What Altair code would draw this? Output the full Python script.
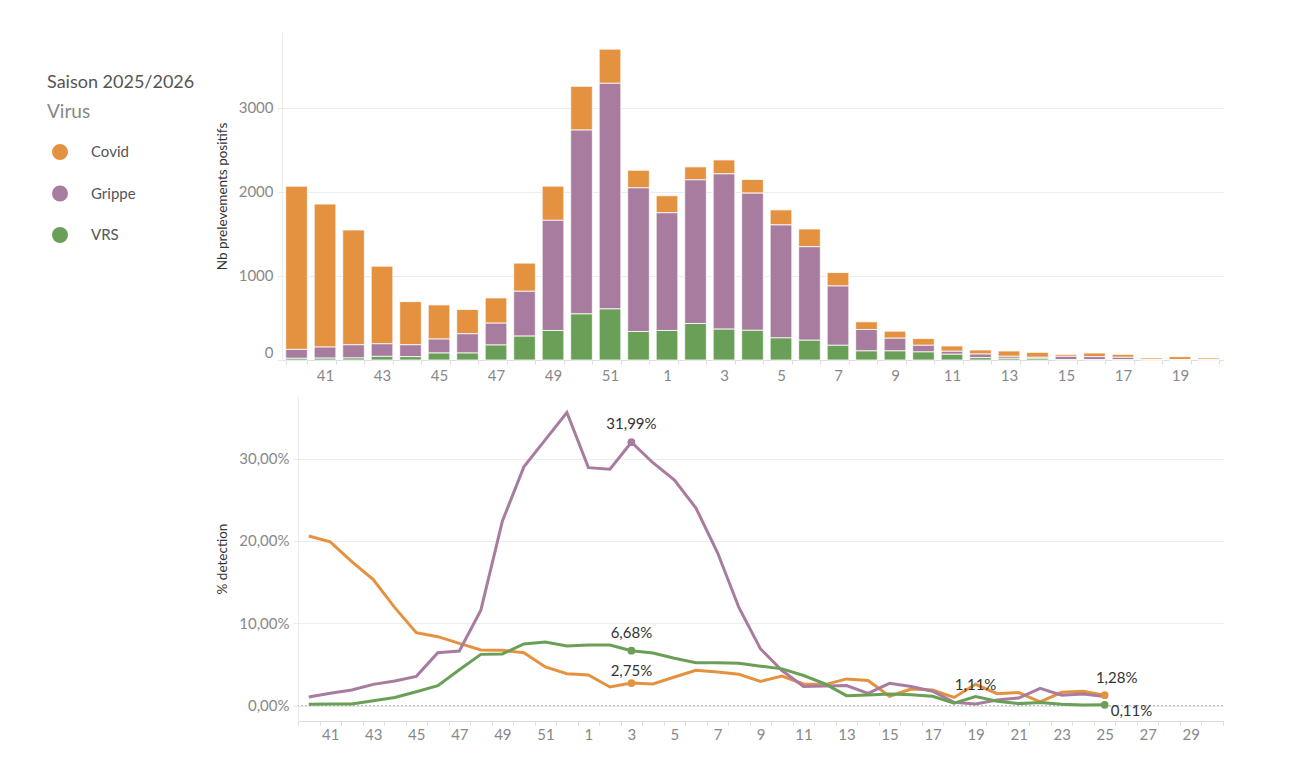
import altair as alt
import pandas as pd

FONT = "Lato"

# ---- series -------------------------------------------------------------
virus = ["Covid", "Grippe", "VRS"]
virus_colors = ["#E4923F", "#A87C9F", "#6A9F57"]
stack_bottom_to_top = ["VRS", "Grippe", "Covid"]

# weekly positive samples (ISO weeks 40 -> 20)
weeks_bars = list(range(40, 53)) + list(range(1, 21))
covid_n = [1941, 1700, 1365, 923, 513, 406, 288, 300, 335, 406, 520, 406, 209,
           202, 154, 166, 162, 179, 211, 160, 91, 84, 80, 63, 48, 63, 59, 23, 43, 35, 19, 36, 21]
grippe_n = [106, 132, 157, 150, 141, 166, 229, 260, 533, 1310, 2186, 2683, 1708,
            1400, 1708, 1846, 1631, 1343, 1112, 705, 255, 151, 79, 36, 43, 24, 12, 40, 36, 29, 3, 3, 2]
vrs_n = [20, 22, 24, 43, 40, 83, 83, 178, 284, 351, 548, 607, 339,
         351, 434, 367, 353, 263, 235, 175, 108, 108, 96, 68, 28, 20, 20, 4, 4, 3, 2, 1, 1]

# weekly detection rate in % (ISO weeks 40 -> 25), axis runs to week 30
weeks_pct = list(range(40, 53)) + list(range(1, 26))
weeks_pct_axis = list(range(40, 53)) + list(range(1, 31))
covid_pct = [20.6, 19.9, 17.5, 15.3, 11.9, 8.87, 8.38, 7.57, 6.76, 6.72, 6.44, 4.70, 3.89,
             3.72, 2.27, 2.75, 2.63, 3.48, 4.29, 4.09, 3.81, 2.95, 3.6, 2.64, 2.56, 3.25, 3.05,
             1.14, 2.03, 1.9, 1.0, 2.6, 1.45, 1.6, 0.45, 1.62, 1.75, 1.28]
grippe_pct = [1.05, 1.50, 1.90, 2.59, 3.00, 3.56, 6.44, 6.64, 11.6, 22.4, 29.0, 32.3, 35.6,
              28.9, 28.7, 31.99, 29.5, 27.4, 24.0, 18.6, 11.9, 6.9, 4.27, 2.32, 2.4, 2.44, 1.5,
              2.72, 2.32, 1.75, 0.4, 0.2, 0.7, 0.93, 2.1, 1.28, 1.42, 1.1]
vrs_pct = [0.16, 0.2, 0.2, 0.6, 1.0, 1.7, 2.43, 4.37, 6.23, 6.28, 7.49, 7.73, 7.25,
           7.37, 7.37, 6.68, 6.40, 5.75, 5.22, 5.22, 5.15, 4.8, 4.47, 3.66, 2.64, 1.22, 1.3,
           1.42, 1.34, 1.15, 0.3, 1.11, 0.55, 0.25, 0.4, 0.16, 0.08, 0.11]

# annotated points: (virus, week, label placement, draw a dot)
annotations = [
    ("Grippe", 3, "above", True),
    ("VRS", 3, "above", True),
    ("Covid", 3, "near", True),
    ("VRS", 19, "near", False),
    ("Covid", 25, "right", True),
    ("VRS", 25, "below", True),
]

season_title = "Saison 2025/2026"
legend_title = "Virus"
count_title = "Nb prelevements positifs"
pct_title = "% detection"
count_ticks = [0, 1000, 2000, 3000]
pct_ticks = [0, 10, 20, 30]

# ---- tables -------------------------------------------------------------
counts = {"Covid": covid_n, "Grippe": grippe_n, "VRS": vrs_n}
rows = []
for v in virus:
    for w, n in zip(weeks_bars, counts[v]):
        rows.append({"week": w, "virus": v, "n": n, "rank": stack_bottom_to_top.index(v)})
df_bars = pd.DataFrame(rows)

rates = {"Covid": covid_pct, "Grippe": grippe_pct, "VRS": vrs_pct}
rows = []
for v in virus:
    for i, (w, p) in enumerate(zip(weeks_pct, rates[v])):
        rows.append({"week": w, "idx": i, "virus": v, "pct": p})
df_pct = pd.DataFrame(rows)

lookup = df_pct.set_index(["virus", "week"])["pct"]
df_notes = pd.DataFrame([
    {"virus": v, "week": w, "pct": lookup[(v, w)], "place": place, "dot": dot}
    for v, w, place, dot in annotations
])

# ---- shared bits ----------------------------------------------------------
odd_only = "datum.value % 2 == 1 ? datum.label : ''"
pct_fmt = "replace(format(datum.value, '.2f'), '.', ',') + '%'"

x_axis = dict(title=None, labelExpr=odd_only, labelAngle=0, tickBand="extent",
              tickSize=4, grid=False, domainColor="#dddddd", tickColor="#dddddd")
y_axis = dict(tickSize=5, labelPadding=4, titlePadding=9,
              domainColor="#ececec", tickColor="#ececec", gridColor="#ececec")

# ---- top: stacked bars ------------------------------------------------------
bars = alt.Chart(df_bars).mark_bar(stroke="white", strokeWidth=0.8).encode(
    x=alt.X("week:O", scale=alt.Scale(domain=weeks_bars, paddingInner=0.24, paddingOuter=0.13),
            axis=alt.Axis(labelPadding=4, **x_axis)),
    y=alt.Y("n:Q", stack="zero",
            scale=alt.Scale(domain=[0, 3900], nice=False),
            axis=alt.Axis(title=count_title, values=count_ticks, format="d", labelFlush=True, **y_axis)),
    color=alt.Color("virus:N", scale=alt.Scale(domain=virus, range=virus_colors),
                    legend=alt.Legend(orient="none", legendX=-167, legendY=112, title=None,
                                      symbolType="circle", symbolSize=254, symbolStrokeWidth=0,
                                      symbolOffset=5, labelOffset=23, rowPadding=25.5,
                                      labelFontSize=15, labelColor="#555555", labelFont=FONT,
                                      padding=0)),
    order=alt.Order("rank:Q", sort="ascending"),
).properties(width=941, height=328)

# ---- bottom: detection rate lines ---------------------------------------------
x_pct = alt.X("week:O", bandPosition=0.5,
              scale=alt.Scale(type="band", domain=weeks_pct_axis, paddingInner=0, paddingOuter=0),
              axis=alt.Axis(labelPadding=2, **x_axis))
y_pct = alt.Y("pct:Q", scale=alt.Scale(domain=[-1.86, 37.6], nice=False, zero=False),
              axis=alt.Axis(title=pct_title, values=pct_ticks, labelExpr=pct_fmt, **y_axis))
line_scale = alt.Scale(domain=virus, range=virus_colors)

zero_rule = alt.Chart(pd.DataFrame({"pct": [0]})).mark_rule(
    color="#b0b0b0", strokeDash=[2, 2], strokeWidth=1
).encode(y=alt.Y("pct:Q"))

lines = alt.Chart(df_pct).mark_line(strokeWidth=3).encode(
    x=x_pct, y=y_pct,
    stroke=alt.Stroke("virus:N", scale=line_scale, legend=None),
    order=alt.Order("idx:Q"),
)

notes = alt.Chart(df_notes).transform_calculate(
    lbl="replace(format(datum.pct, '.2f'), '.', ',') + '%'"
)
dots = notes.transform_filter("datum.dot").mark_circle(size=60, opacity=1).encode(
    x=x_pct, y=y_pct, fill=alt.Fill("virus:N", scale=line_scale, legend=None)
)

def note_layer(place, **mark):
    return notes.transform_filter(f"datum.place == '{place}'").mark_text(
        font=FONT, fontSize=15, color="#333333", baseline="middle", **mark
    ).encode(x=x_pct, y=y_pct, text="lbl:N")

texts = [
    note_layer("above", align="center", dy=-18),
    note_layer("near", align="center", dy=-12),
    note_layer("right", align="center", dx=12, dy=-17),
    note_layer("below", align="left", dx=6, dy=6),
]

rates_chart = alt.layer(zero_rule, lines, dots, *texts).properties(width=925, height=325)

# empty first column so each row's plot area sits right after its own y axis
def gutter():
    return alt.Chart(pd.DataFrame({"g": [0]})).mark_point(size=0, opacity=0, strokeWidth=0).encode(
        x=alt.value(0), y=alt.value(0)
    ).properties(width=1, height=1)

chart = alt.concat(
    gutter(), bars, gutter(), rates_chart,
    columns=2, align="none", spacing=alt.RowColnumber(row=13, column=0),
).resolve_scale(
    x="independent", y="independent"
).properties(
    title=alt.TitleParams(text=season_title, subtitle=legend_title, anchor="start", frame="bounds",
                          baseline="top", font=FONT, fontSize=18, fontWeight="normal", color="#555555",
                          subtitleFont=FONT, subtitleFontSize=19, subtitleColor="#888888",
                          subtitlePadding=11, offset=0, dy=90),
    padding={"left": 47, "top": 32, "right": 20, "bottom": 5},
).configure(font=FONT).configure_view(stroke=None).configure_axis(
    labelFont=FONT, labelFontSize=15, labelColor="#888888",
    titleFont=FONT, titleFontSize=13.5, titleColor="#333333", titleFontWeight="normal",
)

chart.save("out.html", embed_options={"renderer": "svg", "actions": False})
